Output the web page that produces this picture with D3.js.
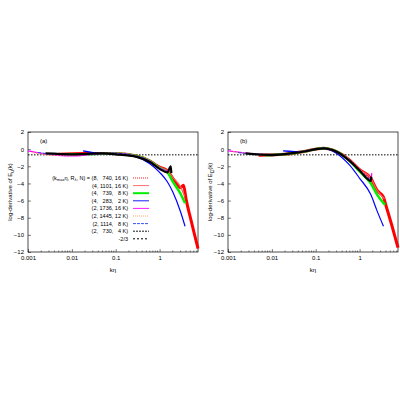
<!DOCTYPE html><html><head><script src="https://d3js.org/d3.v7.min.js"></script>
<style>body{margin:0;background:#fff}text{font-family:"Liberation Sans",Arial,sans-serif}</style></head><body>
<svg id="c" width="400" height="400"></svg>
<script>
const legendLabels=["(8,   740, 16 K)","(4, 1101, 16 K)","(4,   739,   8 K)","(4,   283,   2 K)","(2, 1736, 16 K)","(2, 1445, 12 K)","(2, 1114,   8 K)","(2,   730,   4 K)","-2/3"];
const colors=["#ff0000","#ff6060","#00ee00","#0000ff","#ff00ff","#ffa060","#2040ff","#000000","#000000"];
const widths=[3,1.2,2.5,1.2,1.2,1.2,1,2.2];
const dashes=[null,null,null,null,null,"1.5,1.5","3,1.5",null];
const legendDash=["1,1",null,null,null,null,"1,1","3,1","2,1","2,2"];
const seriesA=[
 [[0.005,-0.6],[0.02,-0.5],[0.1,-0.5],[0.3,-0.8],[0.6,-1.4],[1,-2.1],[1.5,-2.5],[2,-3.4],[3,-4.5],[3.5,-4.2],[4,-5.8],[5.5,-8.8],[7.5,-11.6]],
 [[0.005,-0.6],[0.02,-0.6],[0.1,-0.5],[0.3,-0.8],[0.6,-1.4],[1,-2.1],[1.5,-2.5],[2,-3.3],[3,-4.4],[3.7,-5.5]],
 [[0.007,-0.6],[0.02,-0.6],[0.1,-0.5],[0.3,-0.8],[0.6,-1.4],[1,-2.2],[1.5,-2.7],[2,-3.8],[3,-5.2],[3.8,-6.3]],
 [[0.018,-0.2],[0.05,-0.5],[0.1,-0.5],[0.3,-0.9],[0.6,-1.7],[1,-2.7],[1.5,-3.8],[2,-5],[3,-7.3],[3.8,-9]],
 [[0.001,-0.2],[0.003,-0.6],[0.01,-0.8],[0.03,-0.6],[0.1,-0.5],[0.3,-0.8],[0.6,-1.4],[1,-2.2],[1.5,-2.5],[1.8,-2]],
 [[0.0013,-0.4],[0.004,-0.7],[0.01,-0.7],[0.05,-0.5],[0.1,-0.5],[0.3,-0.8],[0.6,-1.4],[1,-2.2],[1.5,-2.5],[1.8,-2.2]],
 [[0.0017,-0.4],[0.005,-0.6],[0.02,-0.6],[0.1,-0.5],[0.3,-0.8],[0.6,-1.4],[1,-2.2],[1.5,-2.6],[1.8,-2.1]],
 [[0.0025,-0.5],[0.01,-0.6],[0.05,-0.5],[0.1,-0.6],[0.3,-0.9],[0.6,-1.5],[1,-2.3],[1.5,-2.7],[1.8,-2.0],[1.85,-2.8]]
];
const seriesB=[
 [[0.005,-0.7],[0.02,-0.6],[0.05,-0.3],[0.15,0.1],[0.3,-0.3],[0.6,-1.3],[1,-2.4],[1.8,-3.4],[2.5,-4.8],[3.5,-5.6],[4,-6.6],[5.5,-9],[7.5,-11.5]],
 [[0.005,-0.7],[0.02,-0.6],[0.05,-0.3],[0.15,0.1],[0.3,-0.3],[0.6,-1.3],[1,-2.4],[1.8,-3.4],[2.5,-4.8],[3.7,-5.8]],
 [[0.007,-0.7],[0.02,-0.6],[0.05,-0.3],[0.15,0.1],[0.3,-0.3],[0.6,-1.4],[1,-2.6],[1.8,-4],[2.5,-5.3],[3.8,-6.5]],
 [[0.018,-0.2],[0.05,-0.3],[0.15,0.1],[0.3,-0.5],[0.6,-1.9],[1,-3.4],[1.8,-5.3],[2.5,-7.2],[3.5,-9]],
 [[0.001,-0.2],[0.003,-0.5],[0.01,-0.7],[0.03,-0.5],[0.07,-0.1],[0.15,0.1],[0.3,-0.3],[0.6,-1.3],[1,-2.4],[1.8,-3.5],[1.9,-2.8]],
 [[0.0013,-0.3],[0.004,-0.6],[0.01,-0.7],[0.05,-0.3],[0.15,0.1],[0.3,-0.3],[0.6,-1.3],[1,-2.4],[1.8,-3.6]],
 [[0.0017,-0.4],[0.005,-0.6],[0.02,-0.6],[0.05,-0.3],[0.15,0.1],[0.3,-0.3],[0.6,-1.4],[1,-2.5],[1.8,-3.6]],
 [[0.0025,-0.5],[0.01,-0.7],[0.05,-0.3],[0.15,0.1],[0.3,-0.3],[0.6,-1.4],[1,-2.5],[1.8,-3.7],[1.85,-3.2]]
];
const xTicks=[0.001,0.01,0.1,1];
const yTicks=[2,0,-2,-4,-6,-8,-10,-12];
const svg=d3.select("#c");
function panel(ox,label,sub,series,legend){
 const x=d3.scaleLog().domain([0.001,7.5]).range([ox+28,ox+198]);
 const y=d3.scaleLinear().domain([-12,2]).range([252,132]);
 const g=svg.append("g");
 g.append("g").attr("transform","translate(0,252)").call(d3.axisBottom(x).tickValues(xTicks).tickFormat(d=>d>=1?d:d3.format("")(d)).tickSize(-3).tickPadding(4));
 g.append("g").attr("transform",`translate(${ox+28},0)`).call(d3.axisLeft(y).tickValues(yTicks).tickSize(-3).tickPadding(4));
 const minor=[];for(let e=-3;e<1;e++)for(let m=2;m<10;m++){const v=m*Math.pow(10,e);if(v<=7.5)minor.push(v);}
 g.selectAll(".mn").data(minor).join("line").attr("x1",d=>x(d)).attr("x2",d=>x(d)).attr("y1",252).attr("y2",250.5).attr("stroke","#000").attr("stroke-width",0.5);
 g.selectAll(".domain").remove();
 g.append("rect").attr("x",ox+28).attr("y",132).attr("width",170).attr("height",120).attr("fill","none").attr("stroke","#000").attr("stroke-width",0.7);
 g.selectAll(".tick text").attr("font-size",6).attr("fill","#000");
 g.selectAll(".tick line").attr("stroke-width",0.5);
 const line=d3.line().x(d=>x(d[0])).y(d=>y(d[1])).curve(d3.curveMonotoneX);
 g.append("line").attr("x1",x(0.001)).attr("x2",x(7.5)).attr("y1",y(-2/3)).attr("y2",y(-2/3)).attr("stroke","#000").attr("stroke-dasharray","1.5,1.5").attr("stroke-width",1);
 [0,1,2,3,4,5,6,7].forEach(i=>g.append("path").attr("d",line(series[i])).attr("fill","none").attr("stroke",colors[i]).attr("stroke-width",widths[i]).attr("stroke-dasharray",dashes[i]));
 g.append("text").attr("x",ox+40).attr("y",143).attr("font-size",6).text(label);
 const yl=g.append("text").attr("transform",`translate(${ox+12},192) rotate(-90)`).attr("text-anchor","middle").attr("font-size",6);
 yl.append("tspan").text("log-derivative of E");
 yl.append("tspan").attr("font-size",4.5).attr("dy",1.5).text(sub);
 yl.append("tspan").attr("dy",-1.5).text("(k)");
 g.append("text").attr("x",(ox+28+ox+198)/2).attr("y",272).attr("text-anchor","middle").attr("font-size",6).text("kη");
 if(legend){
  legendLabels.forEach((t,i)=>{
   const yy=178+i*7.6;
   const tx=g.append("text").attr("x",ox+128).attr("y",yy+2).attr("text-anchor","end").attr("font-size",5.5).attr("xml:space","preserve");
   if(i==0){
    tx.append("tspan").text("(k");tx.append("tspan").attr("font-size",4).attr("dy",1.2).text("max");
    tx.append("tspan").attr("dy",-1.2).text("η, R");tx.append("tspan").attr("font-size",4).attr("dy",1.2).text("λ");
    tx.append("tspan").attr("dy",-1.2).text(", N) = "+t);
   } else tx.text(t);
   g.append("line").attr("x1",ox+133).attr("x2",ox+149).attr("y1",yy).attr("y2",yy).attr("stroke",colors[i]).attr("stroke-width",i==2?2:(i==8?1:0.9)).attr("stroke-dasharray",legendDash[i]);
  });
 }
}
panel(0,"(a)","u",seriesA,true);
panel(200,"(b)","Ω",seriesB,false);
</script></body></html>
